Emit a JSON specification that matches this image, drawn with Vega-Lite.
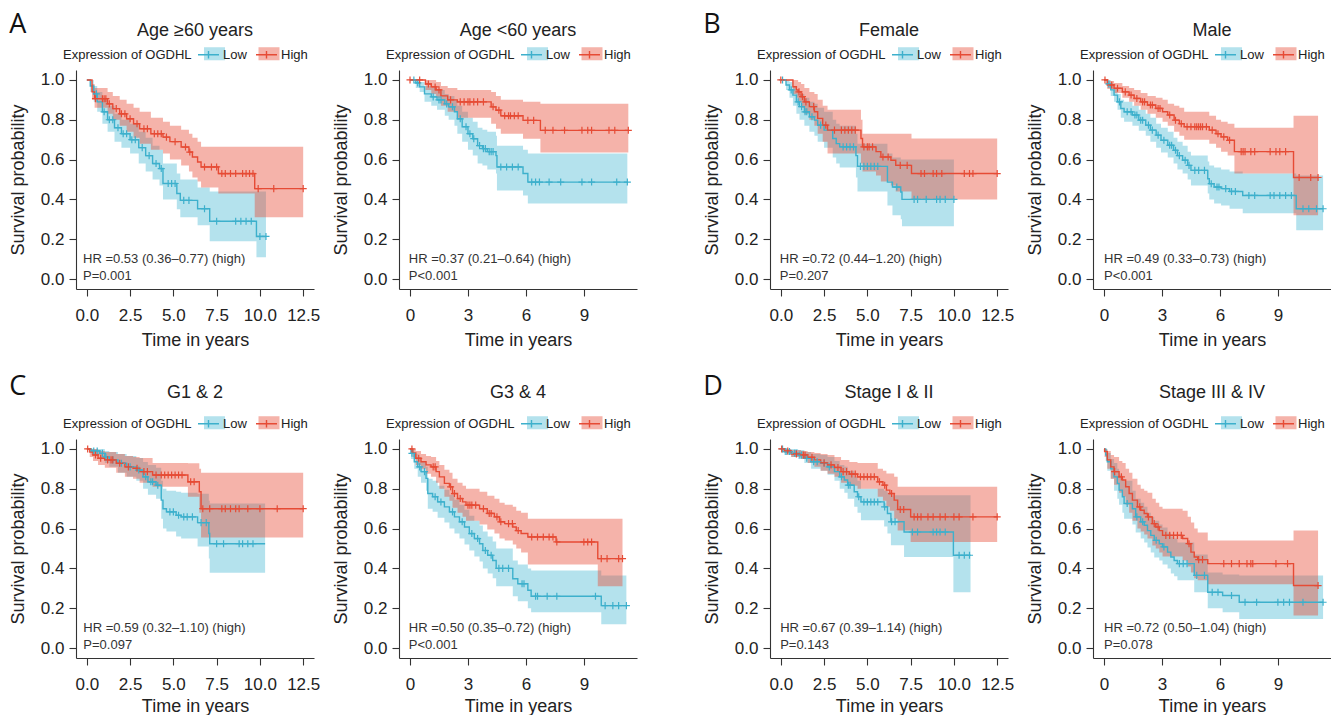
{
"$schema":"https://vega.github.io/schema/vega-lite/v6.json",
"padding":{"left":9,"top":11,"right":0,"bottom":0},
"background":"white",
"config":{
 "font":"Liberation Sans",
 "view":{"stroke":null},
 "axis":{"grid":false,"domainColor":"#333","domainWidth":1.1,"tickColor":"#333","tickWidth":1.1,"tickSize":7,"labelFontSize":17,"labelColor":"#222","titleFontSize":18,"titleFontWeight":"normal","titleColor":"#222","labelOverlap":false,"labelFlush":false},
 "axisX":{"labelPadding":11,"titlePadding":8},
 "axisY":{"labelPadding":5,"titlePadding":13},
 "title":{"fontSize":18,"fontWeight":"normal","color":"#222","font":"Liberation Sans"},
 "legend":{"titleFontSize":13,"titleFontWeight":"normal","titleColor":"#222","labelFontSize":13,"labelColor":"#222","symbolSize":441,"labelOffset":3,"columnPadding":6,"titlePadding":5,"padding":0,"titleAnchor":"end","titleBaseline":"bottom","titleOrient":"left"}
},
"datasets":{
"km":[
{"p":"P1","g":"Low","t":0,"s":1,"lo":1,"hi":1},
{"p":"P1","g":"Low","t":0.2,"s":0.97,"lo":0.94,"hi":1.0},
{"p":"P1","g":"Low","t":0.4,"s":0.93,"lo":0.89,"hi":0.97},
{"p":"P1","g":"Low","t":0.6,"s":0.89,"lo":0.84,"hi":0.94},
{"p":"P1","g":"Low","t":0.9,"s":0.84,"lo":0.78,"hi":0.9},
{"p":"P1","g":"Low","t":1.2,"s":0.8,"lo":0.74,"hi":0.87},
{"p":"P1","g":"Low","t":1.6,"s":0.76,"lo":0.69,"hi":0.83},
{"p":"P1","g":"Low","t":2.0,"s":0.73,"lo":0.66,"hi":0.8},
{"p":"P1","g":"Low","t":2.5,"s":0.7,"lo":0.63,"hi":0.78},
{"p":"P1","g":"Low","t":3.0,"s":0.66,"lo":0.58,"hi":0.74},
{"p":"P1","g":"Low","t":3.4,"s":0.62,"lo":0.54,"hi":0.71},
{"p":"P1","g":"Low","t":3.8,"s":0.58,"lo":0.5,"hi":0.67},
{"p":"P1","g":"Low","t":4.2,"s":0.555,"lo":0.47,"hi":0.65},
{"p":"P1","g":"Low","t":4.4,"s":0.48,"lo":0.4,"hi":0.58},
{"p":"P1","g":"Low","t":5.2,"s":0.43,"lo":0.35,"hi":0.53},
{"p":"P1","g":"Low","t":5.4,"s":0.395,"lo":0.31,"hi":0.5},
{"p":"P1","g":"Low","t":6.4,"s":0.353,"lo":0.27,"hi":0.46},
{"p":"P1","g":"Low","t":7.1,"s":0.29,"lo":0.19,"hi":0.44},
{"p":"P1","g":"Low","t":9.8,"s":0.214,"lo":0.11,"hi":0.44},
{"p":"P1","g":"Low","t":10.35,"s":0.214,"lo":0.11,"hi":0.44},
{"p":"P1","g":"High","t":0,"s":1,"lo":1,"hi":1},
{"p":"P1","g":"High","t":0.3,"s":0.94,"lo":0.9,"hi":0.98},
{"p":"P1","g":"High","t":0.45,"s":0.906,"lo":0.86,"hi":0.96},
{"p":"P1","g":"High","t":1.2,"s":0.88,"lo":0.83,"hi":0.94},
{"p":"P1","g":"High","t":1.5,"s":0.856,"lo":0.8,"hi":0.92},
{"p":"P1","g":"High","t":1.9,"s":0.83,"lo":0.77,"hi":0.9},
{"p":"P1","g":"High","t":2.3,"s":0.805,"lo":0.74,"hi":0.88},
{"p":"P1","g":"High","t":2.7,"s":0.78,"lo":0.71,"hi":0.86},
{"p":"P1","g":"High","t":3.05,"s":0.755,"lo":0.68,"hi":0.84},
{"p":"P1","g":"High","t":3.7,"s":0.73,"lo":0.65,"hi":0.81},
{"p":"P1","g":"High","t":4.4,"s":0.713,"lo":0.63,"hi":0.79},
{"p":"P1","g":"High","t":4.8,"s":0.69,"lo":0.6,"hi":0.77},
{"p":"P1","g":"High","t":5.45,"s":0.663,"lo":0.57,"hi":0.75},
{"p":"P1","g":"High","t":5.9,"s":0.638,"lo":0.54,"hi":0.73},
{"p":"P1","g":"High","t":6.1,"s":0.613,"lo":0.51,"hi":0.71},
{"p":"P1","g":"High","t":6.4,"s":0.588,"lo":0.49,"hi":0.69},
{"p":"P1","g":"High","t":6.6,"s":0.563,"lo":0.46,"hi":0.665},
{"p":"P1","g":"High","t":7.6,"s":0.53,"lo":0.43,"hi":0.665},
{"p":"P1","g":"High","t":9.7,"s":0.454,"lo":0.31,"hi":0.665},
{"p":"P1","g":"High","t":12.5,"s":0.454,"lo":0.31,"hi":0.665},
{"p":"P2","g":"Low","t":0,"s":1,"lo":1,"hi":1},
{"p":"P2","g":"Low","t":0.3,"s":0.985,"lo":0.96,"hi":1.0},
{"p":"P2","g":"Low","t":0.5,"s":0.965,"lo":0.94,"hi":0.99},
{"p":"P2","g":"Low","t":0.75,"s":0.93,"lo":0.89,"hi":0.97},
{"p":"P2","g":"Low","t":1.1,"s":0.915,"lo":0.87,"hi":0.96},
{"p":"P2","g":"Low","t":1.4,"s":0.9,"lo":0.85,"hi":0.95},
{"p":"P2","g":"Low","t":1.8,"s":0.88,"lo":0.82,"hi":0.93},
{"p":"P2","g":"Low","t":2.0,"s":0.865,"lo":0.8,"hi":0.92},
{"p":"P2","g":"Low","t":2.3,"s":0.84,"lo":0.77,"hi":0.9},
{"p":"P2","g":"Low","t":2.45,"s":0.805,"lo":0.73,"hi":0.87},
{"p":"P2","g":"Low","t":2.7,"s":0.765,"lo":0.69,"hi":0.84},
{"p":"P2","g":"Low","t":3.0,"s":0.73,"lo":0.65,"hi":0.81},
{"p":"P2","g":"Low","t":3.25,"s":0.705,"lo":0.62,"hi":0.79},
{"p":"P2","g":"Low","t":3.5,"s":0.67,"lo":0.58,"hi":0.76},
{"p":"P2","g":"Low","t":3.75,"s":0.655,"lo":0.57,"hi":0.75},
{"p":"P2","g":"Low","t":4.0,"s":0.64,"lo":0.55,"hi":0.74},
{"p":"P2","g":"Low","t":4.45,"s":0.62,"lo":0.53,"hi":0.72},
{"p":"P2","g":"Low","t":4.5,"s":0.563,"lo":0.445,"hi":0.67},
{"p":"P2","g":"Low","t":5.85,"s":0.53,"lo":0.42,"hi":0.65},
{"p":"P2","g":"Low","t":6.1,"s":0.487,"lo":0.38,"hi":0.63},
{"p":"P2","g":"Low","t":11.25,"s":0.487,"lo":0.38,"hi":0.63},
{"p":"P2","g":"High","t":0,"s":1,"lo":1,"hi":1},
{"p":"P2","g":"High","t":0.8,"s":0.98,"lo":0.95,"hi":1.0},
{"p":"P2","g":"High","t":1.1,"s":0.965,"lo":0.93,"hi":1.0},
{"p":"P2","g":"High","t":1.35,"s":0.95,"lo":0.91,"hi":0.99},
{"p":"P2","g":"High","t":1.6,"s":0.92,"lo":0.87,"hi":0.97},
{"p":"P2","g":"High","t":1.95,"s":0.9,"lo":0.84,"hi":0.96},
{"p":"P2","g":"High","t":2.45,"s":0.89,"lo":0.81,"hi":0.95},
{"p":"P2","g":"High","t":4.2,"s":0.865,"lo":0.78,"hi":0.94},
{"p":"P2","g":"High","t":4.45,"s":0.848,"lo":0.755,"hi":0.92},
{"p":"P2","g":"High","t":4.7,"s":0.82,"lo":0.73,"hi":0.9},
{"p":"P2","g":"High","t":5.85,"s":0.797,"lo":0.705,"hi":0.89},
{"p":"P2","g":"High","t":6.75,"s":0.747,"lo":0.635,"hi":0.88},
{"p":"P2","g":"High","t":11.3,"s":0.747,"lo":0.635,"hi":0.88},
{"p":"P3","g":"Low","t":0,"s":1,"lo":1,"hi":1},
{"p":"P3","g":"Low","t":0.3,"s":0.975,"lo":0.95,"hi":1.0},
{"p":"P3","g":"Low","t":0.5,"s":0.95,"lo":0.91,"hi":0.99},
{"p":"P3","g":"Low","t":0.7,"s":0.924,"lo":0.87,"hi":0.97},
{"p":"P3","g":"Low","t":0.9,"s":0.89,"lo":0.83,"hi":0.95},
{"p":"P3","g":"Low","t":1.08,"s":0.866,"lo":0.8,"hi":0.93},
{"p":"P3","g":"Low","t":1.36,"s":0.84,"lo":0.77,"hi":0.91},
{"p":"P3","g":"Low","t":1.65,"s":0.815,"lo":0.74,"hi":0.89},
{"p":"P3","g":"Low","t":1.94,"s":0.798,"lo":0.72,"hi":0.88},
{"p":"P3","g":"Low","t":2.13,"s":0.773,"lo":0.69,"hi":0.86},
{"p":"P3","g":"Low","t":2.5,"s":0.748,"lo":0.66,"hi":0.84},
{"p":"P3","g":"Low","t":3.0,"s":0.706,"lo":0.61,"hi":0.8},
{"p":"P3","g":"Low","t":3.2,"s":0.68,"lo":0.58,"hi":0.78},
{"p":"P3","g":"Low","t":3.4,"s":0.664,"lo":0.56,"hi":0.77},
{"p":"P3","g":"Low","t":4.34,"s":0.62,"lo":0.51,"hi":0.73},
{"p":"P3","g":"Low","t":4.43,"s":0.566,"lo":0.44,"hi":0.68},
{"p":"P3","g":"Low","t":6.16,"s":0.487,"lo":0.37,"hi":0.63},
{"p":"P3","g":"Low","t":6.45,"s":0.462,"lo":0.32,"hi":0.61},
{"p":"P3","g":"Low","t":6.93,"s":0.437,"lo":0.3,"hi":0.6},
{"p":"P3","g":"Low","t":7.0,"s":0.4,"lo":0.265,"hi":0.6},
{"p":"P3","g":"Low","t":10.0,"s":0.4,"lo":0.265,"hi":0.6},
{"p":"P3","g":"High","t":0,"s":1,"lo":1,"hi":1},
{"p":"P3","g":"High","t":0.7,"s":0.966,"lo":0.93,"hi":1.0},
{"p":"P3","g":"High","t":0.9,"s":0.95,"lo":0.91,"hi":1.0},
{"p":"P3","g":"High","t":1.0,"s":0.94,"lo":0.89,"hi":0.99},
{"p":"P3","g":"High","t":1.17,"s":0.916,"lo":0.86,"hi":0.98},
{"p":"P3","g":"High","t":1.36,"s":0.89,"lo":0.83,"hi":0.96},
{"p":"P3","g":"High","t":1.65,"s":0.866,"lo":0.8,"hi":0.94},
{"p":"P3","g":"High","t":1.94,"s":0.84,"lo":0.77,"hi":0.93},
{"p":"P3","g":"High","t":2.13,"s":0.807,"lo":0.73,"hi":0.9},
{"p":"P3","g":"High","t":2.42,"s":0.773,"lo":0.69,"hi":0.87},
{"p":"P3","g":"High","t":2.7,"s":0.748,"lo":0.63,"hi":0.85},
{"p":"P3","g":"High","t":4.63,"s":0.706,"lo":0.58,"hi":0.8},
{"p":"P3","g":"High","t":4.72,"s":0.664,"lo":0.54,"hi":0.73},
{"p":"P3","g":"High","t":5.5,"s":0.64,"lo":0.52,"hi":0.73},
{"p":"P3","g":"High","t":5.78,"s":0.613,"lo":0.49,"hi":0.73},
{"p":"P3","g":"High","t":6.36,"s":0.597,"lo":0.47,"hi":0.73},
{"p":"P3","g":"High","t":6.64,"s":0.571,"lo":0.44,"hi":0.73},
{"p":"P3","g":"High","t":7.55,"s":0.53,"lo":0.4,"hi":0.706},
{"p":"P3","g":"High","t":12.5,"s":0.53,"lo":0.4,"hi":0.706},
{"p":"P4","g":"Low","t":0,"s":1,"lo":1,"hi":1},
{"p":"P4","g":"Low","t":0.17,"s":0.98,"lo":0.96,"hi":1.0},
{"p":"P4","g":"Low","t":0.35,"s":0.95,"lo":0.92,"hi":0.98},
{"p":"P4","g":"Low","t":0.52,"s":0.924,"lo":0.89,"hi":0.96},
{"p":"P4","g":"Low","t":0.7,"s":0.89,"lo":0.85,"hi":0.93},
{"p":"P4","g":"Low","t":0.87,"s":0.857,"lo":0.81,"hi":0.9},
{"p":"P4","g":"Low","t":1.04,"s":0.84,"lo":0.79,"hi":0.89},
{"p":"P4","g":"Low","t":1.47,"s":0.824,"lo":0.77,"hi":0.87},
{"p":"P4","g":"Low","t":1.8,"s":0.798,"lo":0.745,"hi":0.85},
{"p":"P4","g":"Low","t":2.16,"s":0.773,"lo":0.72,"hi":0.83},
{"p":"P4","g":"Low","t":2.4,"s":0.748,"lo":0.69,"hi":0.81},
{"p":"P4","g":"Low","t":2.7,"s":0.723,"lo":0.66,"hi":0.78},
{"p":"P4","g":"Low","t":2.95,"s":0.697,"lo":0.635,"hi":0.76},
{"p":"P4","g":"Low","t":3.3,"s":0.672,"lo":0.61,"hi":0.74},
{"p":"P4","g":"Low","t":3.6,"s":0.647,"lo":0.58,"hi":0.71},
{"p":"P4","g":"Low","t":3.8,"s":0.62,"lo":0.55,"hi":0.69},
{"p":"P4","g":"Low","t":4.07,"s":0.597,"lo":0.53,"hi":0.67},
{"p":"P4","g":"Low","t":4.33,"s":0.571,"lo":0.5,"hi":0.64},
{"p":"P4","g":"Low","t":4.5,"s":0.546,"lo":0.47,"hi":0.62},
{"p":"P4","g":"Low","t":5.37,"s":0.504,"lo":0.43,"hi":0.59},
{"p":"P4","g":"Low","t":5.45,"s":0.479,"lo":0.4,"hi":0.57},
{"p":"P4","g":"Low","t":5.7,"s":0.462,"lo":0.38,"hi":0.56},
{"p":"P4","g":"Low","t":6.06,"s":0.454,"lo":0.37,"hi":0.55},
{"p":"P4","g":"Low","t":6.5,"s":0.44,"lo":0.353,"hi":0.54},
{"p":"P4","g":"Low","t":7.18,"s":0.42,"lo":0.33,"hi":0.53},
{"p":"P4","g":"Low","t":9.95,"s":0.353,"lo":0.245,"hi":0.52},
{"p":"P4","g":"Low","t":11.34,"s":0.353,"lo":0.245,"hi":0.52},
{"p":"P4","g":"High","t":0,"s":1,"lo":1,"hi":1},
{"p":"P4","g":"High","t":0.17,"s":0.975,"lo":0.955,"hi":0.995},
{"p":"P4","g":"High","t":0.52,"s":0.958,"lo":0.935,"hi":0.985},
{"p":"P4","g":"High","t":0.95,"s":0.94,"lo":0.91,"hi":0.97},
{"p":"P4","g":"High","t":1.3,"s":0.924,"lo":0.89,"hi":0.96},
{"p":"P4","g":"High","t":1.56,"s":0.907,"lo":0.87,"hi":0.95},
{"p":"P4","g":"High","t":1.9,"s":0.89,"lo":0.85,"hi":0.935},
{"p":"P4","g":"High","t":2.25,"s":0.874,"lo":0.83,"hi":0.92},
{"p":"P4","g":"High","t":2.68,"s":0.857,"lo":0.81,"hi":0.91},
{"p":"P4","g":"High","t":3.03,"s":0.84,"lo":0.79,"hi":0.9},
{"p":"P4","g":"High","t":3.3,"s":0.824,"lo":0.77,"hi":0.88},
{"p":"P4","g":"High","t":3.63,"s":0.798,"lo":0.74,"hi":0.87},
{"p":"P4","g":"High","t":3.9,"s":0.78,"lo":0.72,"hi":0.86},
{"p":"P4","g":"High","t":4.15,"s":0.765,"lo":0.7,"hi":0.84},
{"p":"P4","g":"High","t":5.45,"s":0.748,"lo":0.68,"hi":0.82},
{"p":"P4","g":"High","t":5.8,"s":0.73,"lo":0.66,"hi":0.8},
{"p":"P4","g":"High","t":6.06,"s":0.714,"lo":0.64,"hi":0.79},
{"p":"P4","g":"High","t":6.4,"s":0.697,"lo":0.62,"hi":0.78},
{"p":"P4","g":"High","t":6.75,"s":0.64,"lo":0.53,"hi":0.76},
{"p":"P4","g":"High","t":9.81,"s":0.51,"lo":0.32,"hi":0.82},
{"p":"P4","g":"High","t":11.08,"s":0.51,"lo":0.32,"hi":0.82},
{"p":"P5","g":"Low","t":0,"s":1,"lo":1,"hi":1},
{"p":"P5","g":"Low","t":0.27,"s":0.99,"lo":0.97,"hi":1.0},
{"p":"P5","g":"Low","t":0.75,"s":0.978,"lo":0.95,"hi":1.0},
{"p":"P5","g":"Low","t":1.04,"s":0.96,"lo":0.93,"hi":0.99},
{"p":"P5","g":"Low","t":1.3,"s":0.945,"lo":0.91,"hi":0.985},
{"p":"P5","g":"Low","t":1.8,"s":0.928,"lo":0.88,"hi":0.975},
{"p":"P5","g":"Low","t":2.3,"s":0.91,"lo":0.86,"hi":0.965},
{"p":"P5","g":"Low","t":2.86,"s":0.894,"lo":0.84,"hi":0.955},
{"p":"P5","g":"Low","t":3.25,"s":0.86,"lo":0.8,"hi":0.935},
{"p":"P5","g":"Low","t":3.53,"s":0.835,"lo":0.77,"hi":0.92},
{"p":"P5","g":"Low","t":4.0,"s":0.818,"lo":0.75,"hi":0.905},
{"p":"P5","g":"Low","t":4.3,"s":0.743,"lo":0.65,"hi":0.84},
{"p":"P5","g":"Low","t":4.4,"s":0.7,"lo":0.6,"hi":0.8},
{"p":"P5","g":"Low","t":4.6,"s":0.684,"lo":0.585,"hi":0.79},
{"p":"P5","g":"Low","t":5.16,"s":0.667,"lo":0.56,"hi":0.785},
{"p":"P5","g":"Low","t":5.45,"s":0.659,"lo":0.55,"hi":0.78},
{"p":"P5","g":"Low","t":6.4,"s":0.63,"lo":0.51,"hi":0.775},
{"p":"P5","g":"Low","t":7.05,"s":0.575,"lo":0.45,"hi":0.74},
{"p":"P5","g":"Low","t":7.1,"s":0.524,"lo":0.378,"hi":0.726},
{"p":"P5","g":"Low","t":10.3,"s":0.524,"lo":0.378,"hi":0.726},
{"p":"P5","g":"High","t":0,"s":1,"lo":1,"hi":1},
{"p":"P5","g":"High","t":0.17,"s":0.985,"lo":0.96,"hi":1.0},
{"p":"P5","g":"High","t":0.36,"s":0.97,"lo":0.94,"hi":1.0},
{"p":"P5","g":"High","t":0.65,"s":0.953,"lo":0.92,"hi":0.99},
{"p":"P5","g":"High","t":1.04,"s":0.945,"lo":0.905,"hi":0.985},
{"p":"P5","g":"High","t":1.7,"s":0.928,"lo":0.88,"hi":0.975},
{"p":"P5","g":"High","t":2.2,"s":0.91,"lo":0.86,"hi":0.965},
{"p":"P5","g":"High","t":2.67,"s":0.903,"lo":0.85,"hi":0.96},
{"p":"P5","g":"High","t":3.05,"s":0.886,"lo":0.83,"hi":0.955},
{"p":"P5","g":"High","t":3.8,"s":0.869,"lo":0.81,"hi":0.93},
{"p":"P5","g":"High","t":5.84,"s":0.835,"lo":0.76,"hi":0.928},
{"p":"P5","g":"High","t":6.5,"s":0.785,"lo":0.68,"hi":0.9},
{"p":"P5","g":"High","t":6.6,"s":0.7,"lo":0.555,"hi":0.88},
{"p":"P5","g":"High","t":12.5,"s":0.7,"lo":0.555,"hi":0.88},
{"p":"P6","g":"Low","t":0,"s":1,"lo":1,"hi":1},
{"p":"P6","g":"Low","t":0.05,"s":0.978,"lo":0.95,"hi":1.0},
{"p":"P6","g":"Low","t":0.22,"s":0.936,"lo":0.9,"hi":0.975},
{"p":"P6","g":"Low","t":0.4,"s":0.91,"lo":0.86,"hi":0.96},
{"p":"P6","g":"Low","t":0.57,"s":0.886,"lo":0.83,"hi":0.94},
{"p":"P6","g":"Low","t":0.83,"s":0.852,"lo":0.79,"hi":0.91},
{"p":"P6","g":"Low","t":0.92,"s":0.776,"lo":0.7,"hi":0.85},
{"p":"P6","g":"Low","t":1.17,"s":0.76,"lo":0.685,"hi":0.84},
{"p":"P6","g":"Low","t":1.43,"s":0.734,"lo":0.655,"hi":0.815},
{"p":"P6","g":"Low","t":1.78,"s":0.709,"lo":0.63,"hi":0.795},
{"p":"P6","g":"Low","t":2.04,"s":0.684,"lo":0.6,"hi":0.77},
{"p":"P6","g":"Low","t":2.3,"s":0.659,"lo":0.575,"hi":0.745},
{"p":"P6","g":"Low","t":2.56,"s":0.634,"lo":0.55,"hi":0.72},
{"p":"P6","g":"Low","t":2.82,"s":0.608,"lo":0.52,"hi":0.695},
{"p":"P6","g":"Low","t":3.07,"s":0.575,"lo":0.49,"hi":0.665},
{"p":"P6","g":"Low","t":3.33,"s":0.55,"lo":0.46,"hi":0.64},
{"p":"P6","g":"Low","t":3.6,"s":0.524,"lo":0.435,"hi":0.615},
{"p":"P6","g":"Low","t":3.77,"s":0.49,"lo":0.4,"hi":0.585},
{"p":"P6","g":"Low","t":4.02,"s":0.466,"lo":0.375,"hi":0.56},
{"p":"P6","g":"Low","t":4.28,"s":0.44,"lo":0.35,"hi":0.535},
{"p":"P6","g":"Low","t":4.46,"s":0.4,"lo":0.31,"hi":0.5},
{"p":"P6","g":"Low","t":5.32,"s":0.348,"lo":0.26,"hi":0.44},
{"p":"P6","g":"Low","t":5.58,"s":0.323,"lo":0.235,"hi":0.42},
{"p":"P6","g":"Low","t":6.1,"s":0.29,"lo":0.2,"hi":0.4},
{"p":"P6","g":"Low","t":6.27,"s":0.26,"lo":0.18,"hi":0.39},
{"p":"P6","g":"Low","t":9.9,"s":0.213,"lo":0.12,"hi":0.365},
{"p":"P6","g":"Low","t":11.2,"s":0.213,"lo":0.12,"hi":0.365},
{"p":"P6","g":"High","t":0,"s":1,"lo":1,"hi":1},
{"p":"P6","g":"High","t":0.14,"s":0.98,"lo":0.96,"hi":1.0},
{"p":"P6","g":"High","t":0.3,"s":0.953,"lo":0.92,"hi":0.99},
{"p":"P6","g":"High","t":0.57,"s":0.936,"lo":0.9,"hi":0.975},
{"p":"P6","g":"High","t":0.83,"s":0.92,"lo":0.875,"hi":0.965},
{"p":"P6","g":"High","t":1.09,"s":0.91,"lo":0.86,"hi":0.96},
{"p":"P6","g":"High","t":1.35,"s":0.886,"lo":0.83,"hi":0.94},
{"p":"P6","g":"High","t":1.52,"s":0.86,"lo":0.8,"hi":0.92},
{"p":"P6","g":"High","t":1.78,"s":0.827,"lo":0.76,"hi":0.895},
{"p":"P6","g":"High","t":2.04,"s":0.81,"lo":0.74,"hi":0.88},
{"p":"P6","g":"High","t":2.2,"s":0.776,"lo":0.705,"hi":0.85},
{"p":"P6","g":"High","t":2.46,"s":0.751,"lo":0.68,"hi":0.83},
{"p":"P6","g":"High","t":2.72,"s":0.734,"lo":0.66,"hi":0.815},
{"p":"P6","g":"High","t":2.9,"s":0.718,"lo":0.64,"hi":0.8},
{"p":"P6","g":"High","t":3.6,"s":0.7,"lo":0.62,"hi":0.785},
{"p":"P6","g":"High","t":4.0,"s":0.676,"lo":0.595,"hi":0.765},
{"p":"P6","g":"High","t":4.37,"s":0.659,"lo":0.575,"hi":0.75},
{"p":"P6","g":"High","t":4.63,"s":0.634,"lo":0.55,"hi":0.73},
{"p":"P6","g":"High","t":4.9,"s":0.625,"lo":0.54,"hi":0.72},
{"p":"P6","g":"High","t":5.32,"s":0.608,"lo":0.52,"hi":0.71},
{"p":"P6","g":"High","t":5.5,"s":0.59,"lo":0.5,"hi":0.69},
{"p":"P6","g":"High","t":5.75,"s":0.575,"lo":0.48,"hi":0.68},
{"p":"P6","g":"High","t":6.1,"s":0.558,"lo":0.42,"hi":0.65},
{"p":"P6","g":"High","t":7.56,"s":0.533,"lo":0.42,"hi":0.65},
{"p":"P6","g":"High","t":9.72,"s":0.449,"lo":0.31,"hi":0.65},
{"p":"P6","g":"High","t":11.0,"s":0.449,"lo":0.31,"hi":0.65},
{"p":"P7","g":"Low","t":0,"s":1,"lo":1,"hi":1},
{"p":"P7","g":"Low","t":0.2,"s":0.987,"lo":0.97,"hi":1.0},
{"p":"P7","g":"Low","t":0.6,"s":0.978,"lo":0.96,"hi":1.0},
{"p":"P7","g":"Low","t":1.0,"s":0.97,"lo":0.95,"hi":0.995},
{"p":"P7","g":"Low","t":1.36,"s":0.953,"lo":0.93,"hi":0.985},
{"p":"P7","g":"Low","t":1.75,"s":0.936,"lo":0.9,"hi":0.975},
{"p":"P7","g":"Low","t":2.3,"s":0.928,"lo":0.89,"hi":0.97},
{"p":"P7","g":"Low","t":2.7,"s":0.91,"lo":0.87,"hi":0.96},
{"p":"P7","g":"Low","t":3.1,"s":0.886,"lo":0.84,"hi":0.94},
{"p":"P7","g":"Low","t":3.4,"s":0.86,"lo":0.8,"hi":0.92},
{"p":"P7","g":"Low","t":3.67,"s":0.844,"lo":0.78,"hi":0.91},
{"p":"P7","g":"Low","t":3.86,"s":0.818,"lo":0.75,"hi":0.89},
{"p":"P7","g":"Low","t":4.24,"s":0.785,"lo":0.71,"hi":0.86},
{"p":"P7","g":"Low","t":4.43,"s":0.76,"lo":0.68,"hi":0.84},
{"p":"P7","g":"Low","t":4.63,"s":0.734,"lo":0.642,"hi":0.8},
{"p":"P7","g":"Low","t":5.97,"s":0.709,"lo":0.61,"hi":0.79},
{"p":"P7","g":"Low","t":6.16,"s":0.676,"lo":0.575,"hi":0.78},
{"p":"P7","g":"Low","t":6.36,"s":0.634,"lo":0.516,"hi":0.768},
{"p":"P7","g":"Low","t":7.12,"s":0.583,"lo":0.457,"hi":0.768},
{"p":"P7","g":"Low","t":9.97,"s":0.466,"lo":0.28,"hi":0.768},
{"p":"P7","g":"Low","t":10.96,"s":0.466,"lo":0.28,"hi":0.768},
{"p":"P7","g":"High","t":0,"s":1,"lo":1,"hi":1},
{"p":"P7","g":"High","t":0.2,"s":0.99,"lo":0.98,"hi":1.0},
{"p":"P7","g":"High","t":0.6,"s":0.975,"lo":0.96,"hi":0.995},
{"p":"P7","g":"High","t":1.17,"s":0.97,"lo":0.95,"hi":0.99},
{"p":"P7","g":"High","t":1.55,"s":0.958,"lo":0.93,"hi":0.985},
{"p":"P7","g":"High","t":1.94,"s":0.945,"lo":0.91,"hi":0.98},
{"p":"P7","g":"High","t":2.3,"s":0.93,"lo":0.89,"hi":0.975},
{"p":"P7","g":"High","t":2.7,"s":0.92,"lo":0.875,"hi":0.97},
{"p":"P7","g":"High","t":3.1,"s":0.907,"lo":0.86,"hi":0.96},
{"p":"P7","g":"High","t":3.48,"s":0.886,"lo":0.83,"hi":0.945},
{"p":"P7","g":"High","t":3.96,"s":0.874,"lo":0.815,"hi":0.935},
{"p":"P7","g":"High","t":4.43,"s":0.86,"lo":0.8,"hi":0.93},
{"p":"P7","g":"High","t":5.6,"s":0.835,"lo":0.76,"hi":0.9},
{"p":"P7","g":"High","t":5.9,"s":0.818,"lo":0.74,"hi":0.89},
{"p":"P7","g":"High","t":6.1,"s":0.793,"lo":0.71,"hi":0.877},
{"p":"P7","g":"High","t":6.3,"s":0.776,"lo":0.69,"hi":0.877},
{"p":"P7","g":"High","t":6.55,"s":0.743,"lo":0.65,"hi":0.86},
{"p":"P7","g":"High","t":6.75,"s":0.696,"lo":0.59,"hi":0.81},
{"p":"P7","g":"High","t":7.5,"s":0.659,"lo":0.533,"hi":0.81},
{"p":"P7","g":"High","t":12.5,"s":0.659,"lo":0.533,"hi":0.81},
{"p":"P8","g":"Low","t":0,"s":1,"lo":1,"hi":1},
{"p":"P8","g":"Low","t":0.09,"s":0.97,"lo":0.94,"hi":1.0},
{"p":"P8","g":"Low","t":0.17,"s":0.936,"lo":0.89,"hi":0.98},
{"p":"P8","g":"Low","t":0.35,"s":0.9,"lo":0.85,"hi":0.95},
{"p":"P8","g":"Low","t":0.52,"s":0.86,"lo":0.79,"hi":0.93},
{"p":"P8","g":"Low","t":0.69,"s":0.827,"lo":0.75,"hi":0.9},
{"p":"P8","g":"Low","t":0.78,"s":0.793,"lo":0.72,"hi":0.87},
{"p":"P8","g":"Low","t":0.95,"s":0.76,"lo":0.68,"hi":0.85},
{"p":"P8","g":"Low","t":1.04,"s":0.726,"lo":0.65,"hi":0.84},
{"p":"P8","g":"Low","t":1.47,"s":0.7,"lo":0.62,"hi":0.79},
{"p":"P8","g":"Low","t":1.64,"s":0.659,"lo":0.58,"hi":0.75},
{"p":"P8","g":"Low","t":1.9,"s":0.634,"lo":0.55,"hi":0.73},
{"p":"P8","g":"Low","t":2.08,"s":0.617,"lo":0.53,"hi":0.71},
{"p":"P8","g":"Low","t":2.25,"s":0.59,"lo":0.505,"hi":0.68},
{"p":"P8","g":"Low","t":2.42,"s":0.566,"lo":0.48,"hi":0.66},
{"p":"P8","g":"Low","t":2.6,"s":0.541,"lo":0.455,"hi":0.64},
{"p":"P8","g":"Low","t":2.86,"s":0.524,"lo":0.44,"hi":0.62},
{"p":"P8","g":"Low","t":3.03,"s":0.508,"lo":0.42,"hi":0.605},
{"p":"P8","g":"Low","t":3.29,"s":0.482,"lo":0.4,"hi":0.58},
{"p":"P8","g":"Low","t":3.46,"s":0.457,"lo":0.375,"hi":0.56},
{"p":"P8","g":"Low","t":3.63,"s":0.44,"lo":0.36,"hi":0.55},
{"p":"P8","g":"Low","t":3.8,"s":0.424,"lo":0.34,"hi":0.53},
{"p":"P8","g":"Low","t":4.67,"s":0.365,"lo":0.28,"hi":0.47},
{"p":"P8","g":"Low","t":5.37,"s":0.28,"lo":0.2,"hi":0.38},
{"p":"P8","g":"Low","t":6.14,"s":0.264,"lo":0.18,"hi":0.37},
{"p":"P8","g":"Low","t":7.0,"s":0.23,"lo":0.146,"hi":0.365},
{"p":"P8","g":"Low","t":11.34,"s":0.23,"lo":0.146,"hi":0.365},
{"p":"P8","g":"High","t":0,"s":1,"lo":1,"hi":1},
{"p":"P8","g":"High","t":0.03,"s":0.987,"lo":0.96,"hi":1.0},
{"p":"P8","g":"High","t":0.17,"s":0.945,"lo":0.9,"hi":0.99},
{"p":"P8","g":"High","t":0.35,"s":0.91,"lo":0.85,"hi":0.97},
{"p":"P8","g":"High","t":0.52,"s":0.886,"lo":0.82,"hi":0.96},
{"p":"P8","g":"High","t":0.78,"s":0.86,"lo":0.78,"hi":0.94},
{"p":"P8","g":"High","t":0.95,"s":0.844,"lo":0.76,"hi":0.93},
{"p":"P8","g":"High","t":1.12,"s":0.81,"lo":0.72,"hi":0.9},
{"p":"P8","g":"High","t":1.3,"s":0.776,"lo":0.68,"hi":0.88},
{"p":"P8","g":"High","t":1.47,"s":0.743,"lo":0.64,"hi":0.85},
{"p":"P8","g":"High","t":1.73,"s":0.709,"lo":0.6,"hi":0.82},
{"p":"P8","g":"High","t":1.9,"s":0.692,"lo":0.585,"hi":0.8},
{"p":"P8","g":"High","t":2.08,"s":0.676,"lo":0.57,"hi":0.79},
{"p":"P8","g":"High","t":2.25,"s":0.659,"lo":0.55,"hi":0.78},
{"p":"P8","g":"High","t":2.5,"s":0.625,"lo":0.515,"hi":0.75},
{"p":"P8","g":"High","t":2.68,"s":0.608,"lo":0.5,"hi":0.73},
{"p":"P8","g":"High","t":2.86,"s":0.59,"lo":0.48,"hi":0.71},
{"p":"P8","g":"High","t":3.03,"s":0.566,"lo":0.46,"hi":0.7},
{"p":"P8","g":"High","t":4.07,"s":0.55,"lo":0.44,"hi":0.69},
{"p":"P8","g":"High","t":4.33,"s":0.524,"lo":0.41,"hi":0.66},
{"p":"P8","g":"High","t":4.5,"s":0.482,"lo":0.38,"hi":0.63},
{"p":"P8","g":"High","t":4.67,"s":0.457,"lo":0.35,"hi":0.6},
{"p":"P8","g":"High","t":4.85,"s":0.444,"lo":0.34,"hi":0.58},
{"p":"P8","g":"High","t":5.37,"s":0.424,"lo":0.32,"hi":0.54},
{"p":"P8","g":"High","t":9.81,"s":0.314,"lo":0.163,"hi":0.59},
{"p":"P8","g":"High","t":11.08,"s":0.314,"lo":0.163,"hi":0.59}
],
"cens":[
{"p":"P1","g":"Low","t":0.55,"s":0.93},{"p":"P1","g":"Low","t":1.0,"s":0.84},{"p":"P1","g":"Low","t":1.3,"s":0.8},{"p":"P1","g":"Low","t":1.5,"s":0.8},{"p":"P1","g":"Low","t":1.8,"s":0.76},{"p":"P1","g":"Low","t":2.1,"s":0.73},{"p":"P1","g":"Low","t":2.3,"s":0.73},{"p":"P1","g":"Low","t":2.6,"s":0.7},{"p":"P1","g":"Low","t":2.8,"s":0.7},{"p":"P1","g":"Low","t":3.2,"s":0.66},{"p":"P1","g":"Low","t":3.6,"s":0.62},{"p":"P1","g":"Low","t":4.0,"s":0.58},{"p":"P1","g":"Low","t":4.3,"s":0.555},{"p":"P1","g":"Low","t":4.7,"s":0.48},{"p":"P1","g":"Low","t":4.9,"s":0.48},{"p":"P1","g":"Low","t":5.1,"s":0.48},{"p":"P1","g":"Low","t":5.6,"s":0.395},{"p":"P1","g":"Low","t":5.9,"s":0.395},{"p":"P1","g":"Low","t":6.8,"s":0.353},{"p":"P1","g":"Low","t":7.5,"s":0.29},{"p":"P1","g":"Low","t":8.6,"s":0.29},{"p":"P1","g":"Low","t":8.9,"s":0.29},{"p":"P1","g":"Low","t":9.2,"s":0.29},{"p":"P1","g":"Low","t":9.5,"s":0.29},{"p":"P1","g":"Low","t":10.0,"s":0.214},{"p":"P1","g":"Low","t":10.35,"s":0.214},
{"p":"P1","g":"High","t":0.5,"s":0.906},{"p":"P1","g":"High","t":0.9,"s":0.906},{"p":"P1","g":"High","t":1.0,"s":0.906},{"p":"P1","g":"High","t":1.1,"s":0.906},{"p":"P1","g":"High","t":1.3,"s":0.88},{"p":"P1","g":"High","t":1.7,"s":0.856},{"p":"P1","g":"High","t":2.0,"s":0.83},{"p":"P1","g":"High","t":2.2,"s":0.83},{"p":"P1","g":"High","t":2.5,"s":0.805},{"p":"P1","g":"High","t":2.9,"s":0.78},{"p":"P1","g":"High","t":3.3,"s":0.755},{"p":"P1","g":"High","t":3.5,"s":0.755},{"p":"P1","g":"High","t":3.9,"s":0.73},{"p":"P1","g":"High","t":4.1,"s":0.73},{"p":"P1","g":"High","t":4.3,"s":0.73},{"p":"P1","g":"High","t":4.6,"s":0.713},{"p":"P1","g":"High","t":5.1,"s":0.69},{"p":"P1","g":"High","t":5.7,"s":0.663},{"p":"P1","g":"High","t":5.95,"s":0.638},{"p":"P1","g":"High","t":6.8,"s":0.563},{"p":"P1","g":"High","t":7.2,"s":0.563},{"p":"P1","g":"High","t":7.5,"s":0.563},{"p":"P1","g":"High","t":7.8,"s":0.53},{"p":"P1","g":"High","t":8.0,"s":0.53},{"p":"P1","g":"High","t":8.3,"s":0.53},{"p":"P1","g":"High","t":8.6,"s":0.53},{"p":"P1","g":"High","t":9.0,"s":0.53},{"p":"P1","g":"High","t":9.2,"s":0.53},{"p":"P1","g":"High","t":9.4,"s":0.53},{"p":"P1","g":"High","t":9.6,"s":0.53},{"p":"P1","g":"High","t":9.9,"s":0.454},{"p":"P1","g":"High","t":10.8,"s":0.454},{"p":"P1","g":"High","t":12.5,"s":0.454},
{"p":"P2","g":"Low","t":0.2,"s":1},{"p":"P2","g":"Low","t":0.4,"s":0.985},{"p":"P2","g":"Low","t":1.2,"s":0.915},{"p":"P2","g":"Low","t":1.5,"s":0.9},{"p":"P2","g":"Low","t":1.6,"s":0.9},{"p":"P2","g":"Low","t":1.9,"s":0.88},{"p":"P2","g":"Low","t":2.2,"s":0.865},{"p":"P2","g":"Low","t":2.6,"s":0.805},{"p":"P2","g":"Low","t":2.9,"s":0.765},{"p":"P2","g":"Low","t":3.1,"s":0.73},{"p":"P2","g":"Low","t":3.3,"s":0.705},{"p":"P2","g":"Low","t":3.6,"s":0.67},{"p":"P2","g":"Low","t":3.8,"s":0.655},{"p":"P2","g":"Low","t":3.9,"s":0.655},{"p":"P2","g":"Low","t":4.1,"s":0.64},{"p":"P2","g":"Low","t":4.2,"s":0.64},{"p":"P2","g":"Low","t":4.3,"s":0.64},{"p":"P2","g":"Low","t":4.7,"s":0.563},{"p":"P2","g":"Low","t":5.0,"s":0.563},{"p":"P2","g":"Low","t":5.3,"s":0.563},{"p":"P2","g":"Low","t":5.6,"s":0.563},{"p":"P2","g":"Low","t":6.3,"s":0.487},{"p":"P2","g":"Low","t":6.5,"s":0.487},{"p":"P2","g":"Low","t":6.7,"s":0.487},{"p":"P2","g":"Low","t":7.2,"s":0.487},{"p":"P2","g":"Low","t":7.8,"s":0.487},{"p":"P2","g":"Low","t":8.9,"s":0.487},{"p":"P2","g":"Low","t":9.4,"s":0.487},{"p":"P2","g":"Low","t":10.7,"s":0.487},{"p":"P2","g":"Low","t":11.25,"s":0.487},
{"p":"P2","g":"High","t":0,"s":1},{"p":"P2","g":"High","t":0.5,"s":1},{"p":"P2","g":"High","t":0.95,"s":0.98},{"p":"P2","g":"High","t":1.3,"s":0.965},{"p":"P2","g":"High","t":1.5,"s":0.95},{"p":"P2","g":"High","t":2.1,"s":0.9},{"p":"P2","g":"High","t":2.6,"s":0.89},{"p":"P2","g":"High","t":2.8,"s":0.89},{"p":"P2","g":"High","t":3.0,"s":0.89},{"p":"P2","g":"High","t":3.1,"s":0.89},{"p":"P2","g":"High","t":3.3,"s":0.89},{"p":"P2","g":"High","t":3.5,"s":0.89},{"p":"P2","g":"High","t":3.8,"s":0.89},{"p":"P2","g":"High","t":4.3,"s":0.865},{"p":"P2","g":"High","t":4.6,"s":0.848},{"p":"P2","g":"High","t":4.9,"s":0.82},{"p":"P2","g":"High","t":5.1,"s":0.82},{"p":"P2","g":"High","t":5.2,"s":0.82},{"p":"P2","g":"High","t":5.4,"s":0.82},{"p":"P2","g":"High","t":5.6,"s":0.82},{"p":"P2","g":"High","t":6.1,"s":0.797},{"p":"P2","g":"High","t":6.4,"s":0.797},{"p":"P2","g":"High","t":7.0,"s":0.747},{"p":"P2","g":"High","t":7.4,"s":0.747},{"p":"P2","g":"High","t":8.0,"s":0.747},{"p":"P2","g":"High","t":8.9,"s":0.747},{"p":"P2","g":"High","t":9.2,"s":0.747},{"p":"P2","g":"High","t":9.4,"s":0.747},{"p":"P2","g":"High","t":10.3,"s":0.747},{"p":"P2","g":"High","t":10.6,"s":0.747},{"p":"P2","g":"High","t":11.3,"s":0.747},
{"p":"P3","g":"Low","t":0.1,"s":1},{"p":"P3","g":"Low","t":0.6,"s":0.95},{"p":"P3","g":"Low","t":1.0,"s":0.89},{"p":"P3","g":"Low","t":1.2,"s":0.866},{"p":"P3","g":"Low","t":1.4,"s":0.84},{"p":"P3","g":"Low","t":1.5,"s":0.84},{"p":"P3","g":"Low","t":1.8,"s":0.815},{"p":"P3","g":"Low","t":2.3,"s":0.773},{"p":"P3","g":"Low","t":3.6,"s":0.664},{"p":"P3","g":"Low","t":3.8,"s":0.664},{"p":"P3","g":"Low","t":4.0,"s":0.664},{"p":"P3","g":"Low","t":4.2,"s":0.664},{"p":"P3","g":"Low","t":4.6,"s":0.566},{"p":"P3","g":"Low","t":4.8,"s":0.566},{"p":"P3","g":"Low","t":5.0,"s":0.566},{"p":"P3","g":"Low","t":5.2,"s":0.566},{"p":"P3","g":"Low","t":5.4,"s":0.566},{"p":"P3","g":"Low","t":5.6,"s":0.566},{"p":"P3","g":"Low","t":6.7,"s":0.462},{"p":"P3","g":"Low","t":7.7,"s":0.4},{"p":"P3","g":"Low","t":7.9,"s":0.4},{"p":"P3","g":"Low","t":8.4,"s":0.4},{"p":"P3","g":"Low","t":9.0,"s":0.4},{"p":"P3","g":"Low","t":9.2,"s":0.4},{"p":"P3","g":"Low","t":9.5,"s":0.4},{"p":"P3","g":"Low","t":10.0,"s":0.4},
{"p":"P3","g":"High","t":0,"s":1},{"p":"P3","g":"High","t":1.05,"s":0.94},{"p":"P3","g":"High","t":1.25,"s":0.916},{"p":"P3","g":"High","t":1.45,"s":0.89},{"p":"P3","g":"High","t":1.9,"s":0.866},{"p":"P3","g":"High","t":2.6,"s":0.773},{"p":"P3","g":"High","t":3.1,"s":0.748},{"p":"P3","g":"High","t":3.5,"s":0.748},{"p":"P3","g":"High","t":3.7,"s":0.748},{"p":"P3","g":"High","t":3.9,"s":0.748},{"p":"P3","g":"High","t":4.1,"s":0.748},{"p":"P3","g":"High","t":4.3,"s":0.748},{"p":"P3","g":"High","t":4.8,"s":0.664},{"p":"P3","g":"High","t":5.0,"s":0.664},{"p":"P3","g":"High","t":5.1,"s":0.664},{"p":"P3","g":"High","t":5.3,"s":0.664},{"p":"P3","g":"High","t":5.9,"s":0.613},{"p":"P3","g":"High","t":6.2,"s":0.613},{"p":"P3","g":"High","t":6.9,"s":0.571},{"p":"P3","g":"High","t":7.3,"s":0.571},{"p":"P3","g":"High","t":8.1,"s":0.53},{"p":"P3","g":"High","t":8.3,"s":0.53},{"p":"P3","g":"High","t":8.8,"s":0.53},{"p":"P3","g":"High","t":9.0,"s":0.53},{"p":"P3","g":"High","t":9.3,"s":0.53},{"p":"P3","g":"High","t":10.6,"s":0.53},{"p":"P3","g":"High","t":10.9,"s":0.53},{"p":"P3","g":"High","t":11.1,"s":0.53},{"p":"P3","g":"High","t":12.5,"s":0.53},
{"p":"P4","g":"Low","t":0.25,"s":0.98},{"p":"P4","g":"Low","t":0.8,"s":0.89},{"p":"P4","g":"Low","t":1.2,"s":0.84},{"p":"P4","g":"Low","t":1.4,"s":0.84},{"p":"P4","g":"Low","t":1.6,"s":0.824},{"p":"P4","g":"Low","t":1.7,"s":0.824},{"p":"P4","g":"Low","t":1.9,"s":0.798},{"p":"P4","g":"Low","t":2.0,"s":0.798},{"p":"P4","g":"Low","t":2.3,"s":0.773},{"p":"P4","g":"Low","t":2.5,"s":0.748},{"p":"P4","g":"Low","t":2.8,"s":0.723},{"p":"P4","g":"Low","t":3.1,"s":0.697},{"p":"P4","g":"Low","t":3.4,"s":0.672},{"p":"P4","g":"Low","t":3.5,"s":0.672},{"p":"P4","g":"Low","t":3.7,"s":0.647},{"p":"P4","g":"Low","t":3.9,"s":0.62},{"p":"P4","g":"Low","t":4.2,"s":0.597},{"p":"P4","g":"Low","t":4.4,"s":0.571},{"p":"P4","g":"Low","t":4.7,"s":0.546},{"p":"P4","g":"Low","t":4.9,"s":0.546},{"p":"P4","g":"Low","t":5.2,"s":0.546},{"p":"P4","g":"Low","t":5.55,"s":0.479},{"p":"P4","g":"Low","t":5.85,"s":0.462},{"p":"P4","g":"Low","t":5.95,"s":0.462},{"p":"P4","g":"Low","t":6.3,"s":0.454},{"p":"P4","g":"Low","t":6.6,"s":0.44},{"p":"P4","g":"Low","t":6.8,"s":0.44},{"p":"P4","g":"Low","t":7.5,"s":0.42},{"p":"P4","g":"Low","t":7.8,"s":0.42},{"p":"P4","g":"Low","t":8.6,"s":0.42},{"p":"P4","g":"Low","t":8.8,"s":0.42},{"p":"P4","g":"Low","t":9.1,"s":0.42},{"p":"P4","g":"Low","t":9.4,"s":0.42},{"p":"P4","g":"Low","t":9.7,"s":0.42},{"p":"P4","g":"Low","t":10.3,"s":0.353},{"p":"P4","g":"Low","t":10.6,"s":0.353},{"p":"P4","g":"Low","t":11.0,"s":0.353},{"p":"P4","g":"Low","t":11.34,"s":0.353},
{"p":"P4","g":"High","t":0.05,"s":1},{"p":"P4","g":"High","t":0.4,"s":0.975},{"p":"P4","g":"High","t":0.7,"s":0.958},{"p":"P4","g":"High","t":1.1,"s":0.94},{"p":"P4","g":"High","t":1.4,"s":0.924},{"p":"P4","g":"High","t":1.7,"s":0.907},{"p":"P4","g":"High","t":2.0,"s":0.89},{"p":"P4","g":"High","t":2.1,"s":0.89},{"p":"P4","g":"High","t":2.4,"s":0.874},{"p":"P4","g":"High","t":2.5,"s":0.874},{"p":"P4","g":"High","t":2.8,"s":0.857},{"p":"P4","g":"High","t":2.9,"s":0.857},{"p":"P4","g":"High","t":3.4,"s":0.824},{"p":"P4","g":"High","t":3.7,"s":0.798},{"p":"P4","g":"High","t":4.0,"s":0.78},{"p":"P4","g":"High","t":4.3,"s":0.765},{"p":"P4","g":"High","t":4.5,"s":0.765},{"p":"P4","g":"High","t":4.7,"s":0.765},{"p":"P4","g":"High","t":4.8,"s":0.765},{"p":"P4","g":"High","t":4.9,"s":0.765},{"p":"P4","g":"High","t":5.0,"s":0.765},{"p":"P4","g":"High","t":5.1,"s":0.765},{"p":"P4","g":"High","t":5.3,"s":0.765},{"p":"P4","g":"High","t":5.6,"s":0.748},{"p":"P4","g":"High","t":5.9,"s":0.73},{"p":"P4","g":"High","t":6.2,"s":0.714},{"p":"P4","g":"High","t":6.5,"s":0.697},{"p":"P4","g":"High","t":7.1,"s":0.64},{"p":"P4","g":"High","t":7.2,"s":0.64},{"p":"P4","g":"High","t":7.3,"s":0.64},{"p":"P4","g":"High","t":7.6,"s":0.64},{"p":"P4","g":"High","t":7.8,"s":0.64},{"p":"P4","g":"High","t":8.6,"s":0.64},{"p":"P4","g":"High","t":8.9,"s":0.64},{"p":"P4","g":"High","t":9.1,"s":0.64},{"p":"P4","g":"High","t":9.4,"s":0.64},{"p":"P4","g":"High","t":10.1,"s":0.51},{"p":"P4","g":"High","t":10.7,"s":0.51},{"p":"P4","g":"High","t":11.08,"s":0.51},
{"p":"P5","g":"Low","t":0.4,"s":0.99},{"p":"P5","g":"Low","t":0.6,"s":0.99},{"p":"P5","g":"Low","t":0.9,"s":0.978},{"p":"P5","g":"Low","t":1.1,"s":0.96},{"p":"P5","g":"Low","t":1.5,"s":0.945},{"p":"P5","g":"Low","t":2.0,"s":0.928},{"p":"P5","g":"Low","t":2.5,"s":0.91},{"p":"P5","g":"Low","t":3.0,"s":0.894},{"p":"P5","g":"Low","t":3.4,"s":0.86},{"p":"P5","g":"Low","t":3.7,"s":0.835},{"p":"P5","g":"Low","t":3.8,"s":0.835},{"p":"P5","g":"Low","t":4.1,"s":0.818},{"p":"P5","g":"Low","t":4.8,"s":0.684},{"p":"P5","g":"Low","t":5.0,"s":0.684},{"p":"P5","g":"Low","t":5.3,"s":0.667},{"p":"P5","g":"Low","t":5.6,"s":0.659},{"p":"P5","g":"Low","t":5.8,"s":0.659},{"p":"P5","g":"Low","t":6.1,"s":0.659},{"p":"P5","g":"Low","t":6.6,"s":0.63},{"p":"P5","g":"Low","t":6.9,"s":0.63},{"p":"P5","g":"Low","t":7.5,"s":0.524},{"p":"P5","g":"Low","t":7.9,"s":0.524},{"p":"P5","g":"Low","t":8.8,"s":0.524},{"p":"P5","g":"Low","t":9.0,"s":0.524},{"p":"P5","g":"Low","t":9.3,"s":0.524},{"p":"P5","g":"Low","t":9.6,"s":0.524},
{"p":"P5","g":"High","t":0.05,"s":1},{"p":"P5","g":"High","t":0.5,"s":0.97},{"p":"P5","g":"High","t":0.8,"s":0.953},{"p":"P5","g":"High","t":1.2,"s":0.945},{"p":"P5","g":"High","t":1.4,"s":0.945},{"p":"P5","g":"High","t":1.5,"s":0.945},{"p":"P5","g":"High","t":1.9,"s":0.928},{"p":"P5","g":"High","t":2.4,"s":0.91},{"p":"P5","g":"High","t":2.9,"s":0.903},{"p":"P5","g":"High","t":3.3,"s":0.886},{"p":"P5","g":"High","t":3.5,"s":0.886},{"p":"P5","g":"High","t":4.0,"s":0.869},{"p":"P5","g":"High","t":4.3,"s":0.869},{"p":"P5","g":"High","t":4.5,"s":0.869},{"p":"P5","g":"High","t":4.7,"s":0.869},{"p":"P5","g":"High","t":4.9,"s":0.869},{"p":"P5","g":"High","t":5.1,"s":0.869},{"p":"P5","g":"High","t":5.3,"s":0.869},{"p":"P5","g":"High","t":5.5,"s":0.869},{"p":"P5","g":"High","t":6.0,"s":0.835},{"p":"P5","g":"High","t":6.2,"s":0.835},{"p":"P5","g":"High","t":6.7,"s":0.7},{"p":"P5","g":"High","t":7.1,"s":0.7},{"p":"P5","g":"High","t":7.8,"s":0.7},{"p":"P5","g":"High","t":8.0,"s":0.7},{"p":"P5","g":"High","t":8.3,"s":0.7},{"p":"P5","g":"High","t":8.6,"s":0.7},{"p":"P5","g":"High","t":8.8,"s":0.7},{"p":"P5","g":"High","t":9.3,"s":0.7},{"p":"P5","g":"High","t":10.0,"s":0.7},{"p":"P5","g":"High","t":11.0,"s":0.7},{"p":"P5","g":"High","t":12.5,"s":0.7},
{"p":"P6","g":"Low","t":0.1,"s":0.978},{"p":"P6","g":"Low","t":0.5,"s":0.91},{"p":"P6","g":"Low","t":0.75,"s":0.886},{"p":"P6","g":"Low","t":1.3,"s":0.76},{"p":"P6","g":"Low","t":1.6,"s":0.734},{"p":"P6","g":"Low","t":2.2,"s":0.684},{"p":"P6","g":"Low","t":2.7,"s":0.634},{"p":"P6","g":"Low","t":3.2,"s":0.575},{"p":"P6","g":"Low","t":3.5,"s":0.55},{"p":"P6","g":"Low","t":3.9,"s":0.49},{"p":"P6","g":"Low","t":4.2,"s":0.466},{"p":"P6","g":"Low","t":4.6,"s":0.4},{"p":"P6","g":"Low","t":4.8,"s":0.4},{"p":"P6","g":"Low","t":5.1,"s":0.4},{"p":"P6","g":"Low","t":5.8,"s":0.323},{"p":"P6","g":"Low","t":5.9,"s":0.323},{"p":"P6","g":"Low","t":6.5,"s":0.26},{"p":"P6","g":"Low","t":6.6,"s":0.26},{"p":"P6","g":"Low","t":7.1,"s":0.26},{"p":"P6","g":"Low","t":7.6,"s":0.26},{"p":"P6","g":"Low","t":9.6,"s":0.26},{"p":"P6","g":"Low","t":10.1,"s":0.213},{"p":"P6","g":"Low","t":10.5,"s":0.213},{"p":"P6","g":"Low","t":10.8,"s":0.213},{"p":"P6","g":"Low","t":11.2,"s":0.213},
{"p":"P6","g":"High","t":0.1,"s":1},{"p":"P6","g":"High","t":0.45,"s":0.953},{"p":"P6","g":"High","t":1.2,"s":0.91},{"p":"P6","g":"High","t":1.3,"s":0.91},{"p":"P6","g":"High","t":2.1,"s":0.81},{"p":"P6","g":"High","t":2.3,"s":0.776},{"p":"P6","g":"High","t":2.6,"s":0.751},{"p":"P6","g":"High","t":3.0,"s":0.718},{"p":"P6","g":"High","t":3.1,"s":0.718},{"p":"P6","g":"High","t":3.2,"s":0.718},{"p":"P6","g":"High","t":3.4,"s":0.718},{"p":"P6","g":"High","t":3.8,"s":0.7},{"p":"P6","g":"High","t":4.1,"s":0.676},{"p":"P6","g":"High","t":4.2,"s":0.676},{"p":"P6","g":"High","t":4.5,"s":0.659},{"p":"P6","g":"High","t":4.7,"s":0.634},{"p":"P6","g":"High","t":5.1,"s":0.625},{"p":"P6","g":"High","t":5.3,"s":0.625},{"p":"P6","g":"High","t":5.6,"s":0.59},{"p":"P6","g":"High","t":6.3,"s":0.558},{"p":"P6","g":"High","t":6.6,"s":0.558},{"p":"P6","g":"High","t":6.9,"s":0.558},{"p":"P6","g":"High","t":7.2,"s":0.558},{"p":"P6","g":"High","t":7.4,"s":0.558},{"p":"P6","g":"High","t":7.6,"s":0.533},{"p":"P6","g":"High","t":9.0,"s":0.533},{"p":"P6","g":"High","t":9.2,"s":0.533},{"p":"P6","g":"High","t":9.4,"s":0.533},{"p":"P6","g":"High","t":9.9,"s":0.449},{"p":"P6","g":"High","t":10.2,"s":0.449},{"p":"P6","g":"High","t":10.8,"s":0.449},{"p":"P6","g":"High","t":11.0,"s":0.449},
{"p":"P7","g":"Low","t":0.1,"s":1},{"p":"P7","g":"Low","t":0.3,"s":0.987},{"p":"P7","g":"Low","t":0.5,"s":0.987},{"p":"P7","g":"Low","t":0.8,"s":0.978},{"p":"P7","g":"Low","t":0.9,"s":0.978},{"p":"P7","g":"Low","t":1.1,"s":0.97},{"p":"P7","g":"Low","t":1.2,"s":0.97},{"p":"P7","g":"Low","t":1.5,"s":0.953},{"p":"P7","g":"Low","t":1.9,"s":0.936},{"p":"P7","g":"Low","t":2.1,"s":0.936},{"p":"P7","g":"Low","t":2.5,"s":0.928},{"p":"P7","g":"Low","t":2.8,"s":0.91},{"p":"P7","g":"Low","t":3.5,"s":0.86},{"p":"P7","g":"Low","t":3.9,"s":0.818},{"p":"P7","g":"Low","t":4.0,"s":0.818},{"p":"P7","g":"Low","t":4.5,"s":0.76},{"p":"P7","g":"Low","t":4.8,"s":0.734},{"p":"P7","g":"Low","t":5.0,"s":0.734},{"p":"P7","g":"Low","t":5.2,"s":0.734},{"p":"P7","g":"Low","t":5.4,"s":0.734},{"p":"P7","g":"Low","t":5.6,"s":0.734},{"p":"P7","g":"Low","t":6.0,"s":0.709},{"p":"P7","g":"Low","t":6.4,"s":0.634},{"p":"P7","g":"Low","t":6.6,"s":0.634},{"p":"P7","g":"Low","t":7.6,"s":0.583},{"p":"P7","g":"Low","t":7.9,"s":0.583},{"p":"P7","g":"Low","t":8.8,"s":0.583},{"p":"P7","g":"Low","t":9.0,"s":0.583},{"p":"P7","g":"Low","t":9.2,"s":0.583},{"p":"P7","g":"Low","t":9.5,"s":0.583},{"p":"P7","g":"Low","t":10.3,"s":0.466},{"p":"P7","g":"Low","t":10.6,"s":0.466},{"p":"P7","g":"Low","t":10.9,"s":0.466},
{"p":"P7","g":"High","t":0.05,"s":1},{"p":"P7","g":"High","t":0.4,"s":0.99},{"p":"P7","g":"High","t":0.9,"s":0.975},{"p":"P7","g":"High","t":1.3,"s":0.97},{"p":"P7","g":"High","t":1.4,"s":0.97},{"p":"P7","g":"High","t":1.8,"s":0.958},{"p":"P7","g":"High","t":2.5,"s":0.93},{"p":"P7","g":"High","t":2.9,"s":0.92},{"p":"P7","g":"High","t":3.3,"s":0.907},{"p":"P7","g":"High","t":3.6,"s":0.886},{"p":"P7","g":"High","t":3.8,"s":0.886},{"p":"P7","g":"High","t":4.1,"s":0.874},{"p":"P7","g":"High","t":4.3,"s":0.874},{"p":"P7","g":"High","t":4.6,"s":0.86},{"p":"P7","g":"High","t":4.8,"s":0.86},{"p":"P7","g":"High","t":5.0,"s":0.86},{"p":"P7","g":"High","t":5.2,"s":0.86},{"p":"P7","g":"High","t":5.4,"s":0.86},{"p":"P7","g":"High","t":5.7,"s":0.835},{"p":"P7","g":"High","t":6.0,"s":0.818},{"p":"P7","g":"High","t":6.4,"s":0.776},{"p":"P7","g":"High","t":6.9,"s":0.696},{"p":"P7","g":"High","t":7.1,"s":0.696},{"p":"P7","g":"High","t":7.7,"s":0.659},{"p":"P7","g":"High","t":7.9,"s":0.659},{"p":"P7","g":"High","t":8.1,"s":0.659},{"p":"P7","g":"High","t":8.5,"s":0.659},{"p":"P7","g":"High","t":8.8,"s":0.659},{"p":"P7","g":"High","t":9.2,"s":0.659},{"p":"P7","g":"High","t":9.5,"s":0.659},{"p":"P7","g":"High","t":10.0,"s":0.659},{"p":"P7","g":"High","t":10.3,"s":0.659},{"p":"P7","g":"High","t":11.1,"s":0.659},{"p":"P7","g":"High","t":12.5,"s":0.659},
{"p":"P8","g":"Low","t":1.2,"s":0.726},{"p":"P8","g":"Low","t":1.7,"s":0.659},{"p":"P8","g":"Low","t":2.0,"s":0.634},{"p":"P8","g":"Low","t":2.7,"s":0.541},{"p":"P8","g":"Low","t":3.1,"s":0.508},{"p":"P8","g":"Low","t":3.9,"s":0.424},{"p":"P8","g":"Low","t":4.1,"s":0.424},{"p":"P8","g":"Low","t":4.3,"s":0.424},{"p":"P8","g":"Low","t":4.8,"s":0.365},{"p":"P8","g":"Low","t":5.2,"s":0.365},{"p":"P8","g":"Low","t":5.6,"s":0.28},{"p":"P8","g":"Low","t":5.9,"s":0.28},{"p":"P8","g":"Low","t":6.6,"s":0.264},{"p":"P8","g":"Low","t":7.3,"s":0.23},{"p":"P8","g":"Low","t":7.9,"s":0.23},{"p":"P8","g":"Low","t":9.0,"s":0.23},{"p":"P8","g":"Low","t":9.3,"s":0.23},{"p":"P8","g":"Low","t":9.6,"s":0.23},{"p":"P8","g":"Low","t":10.3,"s":0.23},{"p":"P8","g":"Low","t":11.34,"s":0.23},
{"p":"P8","g":"High","t":0.55,"s":0.886},{"p":"P8","g":"High","t":0.9,"s":0.86},{"p":"P8","g":"High","t":1.85,"s":0.709},{"p":"P8","g":"High","t":2.3,"s":0.659},{"p":"P8","g":"High","t":2.6,"s":0.625},{"p":"P8","g":"High","t":2.8,"s":0.608},{"p":"P8","g":"High","t":3.2,"s":0.566},{"p":"P8","g":"High","t":3.4,"s":0.566},{"p":"P8","g":"High","t":3.6,"s":0.566},{"p":"P8","g":"High","t":3.8,"s":0.566},{"p":"P8","g":"High","t":4.0,"s":0.566},{"p":"P8","g":"High","t":4.4,"s":0.524},{"p":"P8","g":"High","t":4.9,"s":0.444},{"p":"P8","g":"High","t":5.1,"s":0.444},{"p":"P8","g":"High","t":6.2,"s":0.424},{"p":"P8","g":"High","t":6.6,"s":0.424},{"p":"P8","g":"High","t":7.0,"s":0.424},{"p":"P8","g":"High","t":7.4,"s":0.424},{"p":"P8","g":"High","t":7.6,"s":0.424},{"p":"P8","g":"High","t":7.7,"s":0.424},{"p":"P8","g":"High","t":8.9,"s":0.424},{"p":"P8","g":"High","t":9.5,"s":0.424},{"p":"P8","g":"High","t":11.08,"s":0.314}
],
"ann":[
{"p":"P1","t":-0.22,"s":0.1,"label":"HR =0.53 (0.36–0.77) (high)"},{"p":"P1","t":-0.22,"s":0.015,"label":"P=0.001"},
{"p":"P2","t":-0.06,"s":0.1,"label":"HR =0.37 (0.21–0.64) (high)"},{"p":"P2","t":-0.06,"s":0.015,"label":"P<0.001"},
{"p":"P3","t":-0.06,"s":0.1,"label":"HR =0.72 (0.44–1.20) (high)"},{"p":"P3","t":-0.06,"s":0.015,"label":"P=0.207"},
{"p":"P4","t":0,"s":0.1,"label":"HR =0.49 (0.33–0.73) (high)"},{"p":"P4","t":0,"s":0.015,"label":"P<0.001"},
{"p":"P5","t":-0.2,"s":0.1,"label":"HR =0.59 (0.32–1.10) (high)"},{"p":"P5","t":-0.2,"s":0.015,"label":"P=0.097"},
{"p":"P6","t":-0.06,"s":0.1,"label":"HR =0.50 (0.35–0.72) (high)"},{"p":"P6","t":-0.06,"s":0.015,"label":"P<0.001"},
{"p":"P7","t":-0.04,"s":0.1,"label":"HR =0.67 (0.39–1.14) (high)"},{"p":"P7","t":-0.04,"s":0.015,"label":"P=0.143"},
{"p":"P8","t":0,"s":0.1,"label":"HR =0.72 (0.50–1.04) (high)"},{"p":"P8","t":0,"s":0.015,"label":"P=0.078"}
]
},
"spacing":24,
"resolve":{"scale":{"fill":"independent","stroke":"independent"},"legend":{"fill":"independent","stroke":"independent"}},
"vconcat":[
{"spacing":66,"resolve":{"scale":{"fill":"independent","stroke":"independent"},"legend":{"fill":"independent","stroke":"independent"}},"hconcat":[
 {"title":{"text":"A","anchor":"start","font":"Open Sans","fontSize":27,"fontWeight":"normal","color":"#111","offset":-17},"spacing":12,"resolve":{"scale":{"fill":"independent","stroke":"independent"},"legend":{"fill":"independent","stroke":"independent"}},"hconcat":[
  {"width":238,"height":219,"title":{"text":"Age ≥60 years","offset":3},
   "encoding":{"x":{"field":"t","type":"quantitative","scale":{"domain":[-0.625,13.125],"nice":false,"zero":false},"axis":{"values":[0,2.5,5,7.5,10,12.5],"format":".1f","title":"Time in years"}}},
   "layer":[
    {"data":{"name":"km"},"transform":[{"filter":"datum.p=='P1'"}],"mark":{"type":"area","interpolate":"step-after","opacity":0.42},"encoding":{"y":{"field":"lo","type":"quantitative","scale":{"domain":[-0.05,1.05],"nice":false,"zero":false},"axis":{"values":[0,0.2,0.4,0.6,0.8,1],"format":".1f","title":"Survival probability"}},"y2":{"field":"hi"},"fill":{"field":"g","type":"nominal","scale":{"domain":["Low","High"],"range":["#4DBBD5","#E64B35"]},"legend":{"title":null,"orient":"none","legendX":128,"legendY":-27,"direction":"horizontal","symbolType":"M-1,-0.62H1V0.62H-1Z","symbolOpacity":0.42,"symbolStrokeWidth":0,"labelExpr":"''","columnPadding":30.5}}}},
    {"data":{"name":"km"},"transform":[{"filter":"datum.p=='P1'"}],"mark":{"type":"line","interpolate":"step-after","strokeWidth":1.4},"encoding":{"y":{"field":"s","type":"quantitative","axis":{"values":[0,0.2,0.4,0.6,0.8,1],"format":".1f","title":"Survival probability"}},"stroke":{"field":"g","type":"nominal","sort":["Low","High"],"scale":{"range":["#3DB0CC","#E64B35"]},"legend":{"title":"Expression of OGDHL","orient":"none","legendX":-13,"legendY":-27,"direction":"horizontal","symbolType":"M-1,0H1M0,-0.36V0.36","symbolStrokeWidth":1.4,"symbolFillColor":"transparent"}}}},
    {"data":{"name":"cens"},"transform":[{"filter":"datum.p=='P1'"}],"mark":{"type":"point","shape":"M-1,0H1M0,-1V1","size":50,"filled":false,"strokeWidth":1.2,"opacity":1},"encoding":{"y":{"field":"s","type":"quantitative","axis":{"values":[0,0.2,0.4,0.6,0.8,1],"format":".1f","title":"Survival probability"}},"stroke":{"field":"g","type":"nominal","sort":["Low","High"],"legend":null}}},
    {"data":{"name":"ann"},"transform":[{"filter":"datum.p=='P1'"}],"mark":{"type":"text","align":"left","baseline":"middle","fontSize":13,"color":"#333"},"encoding":{"y":{"field":"s","type":"quantitative","axis":{"values":[0,0.2,0.4,0.6,0.8,1],"format":".1f","title":"Survival probability"}},"text":{"field":"label"}}}
   ]},
  {"width":238,"height":219,"title":{"text":"Age <60 years","offset":3},
   "encoding":{"x":{"field":"t","type":"quantitative","scale":{"domain":[-0.57,11.75],"nice":false,"zero":false},"axis":{"values":[0,3,6,9],"format":"d","title":"Time in years"}}},
   "layer":[
    {"data":{"name":"km"},"transform":[{"filter":"datum.p=='P2'"}],"mark":{"type":"area","interpolate":"step-after","opacity":0.42},"encoding":{"y":{"field":"lo","type":"quantitative","scale":{"domain":[-0.05,1.05],"nice":false,"zero":false},"axis":{"values":[0,0.2,0.4,0.6,0.8,1],"format":".1f","title":"Survival probability"}},"y2":{"field":"hi"},"fill":{"field":"g","type":"nominal","scale":{"domain":["Low","High"],"range":["#4DBBD5","#E64B35"]},"legend":{"title":null,"orient":"none","legendX":128,"legendY":-27,"direction":"horizontal","symbolType":"M-1,-0.62H1V0.62H-1Z","symbolOpacity":0.42,"symbolStrokeWidth":0,"labelExpr":"''","columnPadding":30.5}}}},
    {"data":{"name":"km"},"transform":[{"filter":"datum.p=='P2'"}],"mark":{"type":"line","interpolate":"step-after","strokeWidth":1.4},"encoding":{"y":{"field":"s","type":"quantitative","axis":{"values":[0,0.2,0.4,0.6,0.8,1],"format":".1f","title":"Survival probability"}},"stroke":{"field":"g","type":"nominal","sort":["Low","High"],"scale":{"range":["#3DB0CC","#E64B35"]},"legend":{"title":"Expression of OGDHL","orient":"none","legendX":-13,"legendY":-27,"direction":"horizontal","symbolType":"M-1,0H1M0,-0.36V0.36","symbolStrokeWidth":1.4,"symbolFillColor":"transparent"}}}},
    {"data":{"name":"cens"},"transform":[{"filter":"datum.p=='P2'"}],"mark":{"type":"point","shape":"M-1,0H1M0,-1V1","size":50,"filled":false,"strokeWidth":1.2,"opacity":1},"encoding":{"y":{"field":"s","type":"quantitative","axis":{"values":[0,0.2,0.4,0.6,0.8,1],"format":".1f","title":"Survival probability"}},"stroke":{"field":"g","type":"nominal","sort":["Low","High"],"legend":null}}},
    {"data":{"name":"ann"},"transform":[{"filter":"datum.p=='P2'"}],"mark":{"type":"text","align":"left","baseline":"middle","fontSize":13,"color":"#333"},"encoding":{"y":{"field":"s","type":"quantitative","axis":{"values":[0,0.2,0.4,0.6,0.8,1],"format":".1f","title":"Survival probability"}},"text":{"field":"label"}}}
   ]}
 ]},
 {"title":{"text":"B","anchor":"start","font":"Open Sans","fontSize":27,"fontWeight":"normal","color":"#111","offset":-17},"spacing":12,"resolve":{"scale":{"fill":"independent","stroke":"independent"},"legend":{"fill":"independent","stroke":"independent"}},"hconcat":[
  {"width":238,"height":219,"title":{"text":"Female","offset":3},
   "encoding":{"x":{"field":"t","type":"quantitative","scale":{"domain":[-0.625,13.125],"nice":false,"zero":false},"axis":{"values":[0,2.5,5,7.5,10,12.5],"format":".1f","title":"Time in years"}}},
   "layer":[
    {"data":{"name":"km"},"transform":[{"filter":"datum.p=='P3'"}],"mark":{"type":"area","interpolate":"step-after","opacity":0.42},"encoding":{"y":{"field":"lo","type":"quantitative","scale":{"domain":[-0.05,1.05],"nice":false,"zero":false},"axis":{"values":[0,0.2,0.4,0.6,0.8,1],"format":".1f","title":"Survival probability"}},"y2":{"field":"hi"},"fill":{"field":"g","type":"nominal","scale":{"domain":["Low","High"],"range":["#4DBBD5","#E64B35"]},"legend":{"title":null,"orient":"none","legendX":128,"legendY":-27,"direction":"horizontal","symbolType":"M-1,-0.62H1V0.62H-1Z","symbolOpacity":0.42,"symbolStrokeWidth":0,"labelExpr":"''","columnPadding":30.5}}}},
    {"data":{"name":"km"},"transform":[{"filter":"datum.p=='P3'"}],"mark":{"type":"line","interpolate":"step-after","strokeWidth":1.4},"encoding":{"y":{"field":"s","type":"quantitative","axis":{"values":[0,0.2,0.4,0.6,0.8,1],"format":".1f","title":"Survival probability"}},"stroke":{"field":"g","type":"nominal","sort":["Low","High"],"scale":{"range":["#3DB0CC","#E64B35"]},"legend":{"title":"Expression of OGDHL","orient":"none","legendX":-13,"legendY":-27,"direction":"horizontal","symbolType":"M-1,0H1M0,-0.36V0.36","symbolStrokeWidth":1.4,"symbolFillColor":"transparent"}}}},
    {"data":{"name":"cens"},"transform":[{"filter":"datum.p=='P3'"}],"mark":{"type":"point","shape":"M-1,0H1M0,-1V1","size":50,"filled":false,"strokeWidth":1.2,"opacity":1},"encoding":{"y":{"field":"s","type":"quantitative","axis":{"values":[0,0.2,0.4,0.6,0.8,1],"format":".1f","title":"Survival probability"}},"stroke":{"field":"g","type":"nominal","sort":["Low","High"],"legend":null}}},
    {"data":{"name":"ann"},"transform":[{"filter":"datum.p=='P3'"}],"mark":{"type":"text","align":"left","baseline":"middle","fontSize":13,"color":"#333"},"encoding":{"y":{"field":"s","type":"quantitative","axis":{"values":[0,0.2,0.4,0.6,0.8,1],"format":".1f","title":"Survival probability"}},"text":{"field":"label"}}}
   ]},
  {"width":238,"height":219,"title":{"text":"Male","offset":3},
   "encoding":{"x":{"field":"t","type":"quantitative","scale":{"domain":[-0.57,11.75],"nice":false,"zero":false},"axis":{"values":[0,3,6,9],"format":"d","title":"Time in years"}}},
   "layer":[
    {"data":{"name":"km"},"transform":[{"filter":"datum.p=='P4'"}],"mark":{"type":"area","interpolate":"step-after","opacity":0.42},"encoding":{"y":{"field":"lo","type":"quantitative","scale":{"domain":[-0.05,1.05],"nice":false,"zero":false},"axis":{"values":[0,0.2,0.4,0.6,0.8,1],"format":".1f","title":"Survival probability"}},"y2":{"field":"hi"},"fill":{"field":"g","type":"nominal","scale":{"domain":["Low","High"],"range":["#4DBBD5","#E64B35"]},"legend":{"title":null,"orient":"none","legendX":128,"legendY":-27,"direction":"horizontal","symbolType":"M-1,-0.62H1V0.62H-1Z","symbolOpacity":0.42,"symbolStrokeWidth":0,"labelExpr":"''","columnPadding":30.5}}}},
    {"data":{"name":"km"},"transform":[{"filter":"datum.p=='P4'"}],"mark":{"type":"line","interpolate":"step-after","strokeWidth":1.4},"encoding":{"y":{"field":"s","type":"quantitative","axis":{"values":[0,0.2,0.4,0.6,0.8,1],"format":".1f","title":"Survival probability"}},"stroke":{"field":"g","type":"nominal","sort":["Low","High"],"scale":{"range":["#3DB0CC","#E64B35"]},"legend":{"title":"Expression of OGDHL","orient":"none","legendX":-13,"legendY":-27,"direction":"horizontal","symbolType":"M-1,0H1M0,-0.36V0.36","symbolStrokeWidth":1.4,"symbolFillColor":"transparent"}}}},
    {"data":{"name":"cens"},"transform":[{"filter":"datum.p=='P4'"}],"mark":{"type":"point","shape":"M-1,0H1M0,-1V1","size":50,"filled":false,"strokeWidth":1.2,"opacity":1},"encoding":{"y":{"field":"s","type":"quantitative","axis":{"values":[0,0.2,0.4,0.6,0.8,1],"format":".1f","title":"Survival probability"}},"stroke":{"field":"g","type":"nominal","sort":["Low","High"],"legend":null}}},
    {"data":{"name":"ann"},"transform":[{"filter":"datum.p=='P4'"}],"mark":{"type":"text","align":"left","baseline":"middle","fontSize":13,"color":"#333"},"encoding":{"y":{"field":"s","type":"quantitative","axis":{"values":[0,0.2,0.4,0.6,0.8,1],"format":".1f","title":"Survival probability"}},"text":{"field":"label"}}}
   ]}
 ]}
]},
{"spacing":66,"resolve":{"scale":{"fill":"independent","stroke":"independent"},"legend":{"fill":"independent","stroke":"independent"}},"hconcat":[
 {"title":{"text":"C","anchor":"start","font":"Open Sans","fontSize":27,"fontWeight":"normal","color":"#111","offset":-17},"spacing":12,"resolve":{"scale":{"fill":"independent","stroke":"independent"},"legend":{"fill":"independent","stroke":"independent"}},"hconcat":[
  {"width":238,"height":219,"title":{"text":"G1 & 2","offset":10},
   "encoding":{"x":{"field":"t","type":"quantitative","scale":{"domain":[-0.625,13.125],"nice":false,"zero":false},"axis":{"values":[0,2.5,5,7.5,10,12.5],"format":".1f","title":"Time in years","titlePadding":5}}},
   "layer":[
    {"data":{"name":"km"},"transform":[{"filter":"datum.p=='P5'"}],"mark":{"type":"area","interpolate":"step-after","opacity":0.42},"encoding":{"y":{"field":"lo","type":"quantitative","scale":{"domain":[-0.05,1.05],"nice":false,"zero":false},"axis":{"values":[0,0.2,0.4,0.6,0.8,1],"format":".1f","title":"Survival probability"}},"y2":{"field":"hi"},"fill":{"field":"g","type":"nominal","scale":{"domain":["Low","High"],"range":["#4DBBD5","#E64B35"]},"legend":{"title":null,"orient":"none","legendX":128,"legendY":-27,"direction":"horizontal","symbolType":"M-1,-0.62H1V0.62H-1Z","symbolOpacity":0.42,"symbolStrokeWidth":0,"labelExpr":"''","columnPadding":30.5}}}},
    {"data":{"name":"km"},"transform":[{"filter":"datum.p=='P5'"}],"mark":{"type":"line","interpolate":"step-after","strokeWidth":1.4},"encoding":{"y":{"field":"s","type":"quantitative","axis":{"values":[0,0.2,0.4,0.6,0.8,1],"format":".1f","title":"Survival probability"}},"stroke":{"field":"g","type":"nominal","sort":["Low","High"],"scale":{"range":["#3DB0CC","#E64B35"]},"legend":{"title":"Expression of OGDHL","orient":"none","legendX":-13,"legendY":-27,"direction":"horizontal","symbolType":"M-1,0H1M0,-0.36V0.36","symbolStrokeWidth":1.4,"symbolFillColor":"transparent"}}}},
    {"data":{"name":"cens"},"transform":[{"filter":"datum.p=='P5'"}],"mark":{"type":"point","shape":"M-1,0H1M0,-1V1","size":50,"filled":false,"strokeWidth":1.2,"opacity":1},"encoding":{"y":{"field":"s","type":"quantitative","axis":{"values":[0,0.2,0.4,0.6,0.8,1],"format":".1f","title":"Survival probability"}},"stroke":{"field":"g","type":"nominal","sort":["Low","High"],"legend":null}}},
    {"data":{"name":"ann"},"transform":[{"filter":"datum.p=='P5'"}],"mark":{"type":"text","align":"left","baseline":"middle","fontSize":13,"color":"#333"},"encoding":{"y":{"field":"s","type":"quantitative","axis":{"values":[0,0.2,0.4,0.6,0.8,1],"format":".1f","title":"Survival probability"}},"text":{"field":"label"}}}
   ]},
  {"width":238,"height":219,"title":{"text":"G3 & 4","offset":10},
   "encoding":{"x":{"field":"t","type":"quantitative","scale":{"domain":[-0.57,11.75],"nice":false,"zero":false},"axis":{"values":[0,3,6,9],"format":"d","title":"Time in years","titlePadding":5}}},
   "layer":[
    {"data":{"name":"km"},"transform":[{"filter":"datum.p=='P6'"}],"mark":{"type":"area","interpolate":"step-after","opacity":0.42},"encoding":{"y":{"field":"lo","type":"quantitative","scale":{"domain":[-0.05,1.05],"nice":false,"zero":false},"axis":{"values":[0,0.2,0.4,0.6,0.8,1],"format":".1f","title":"Survival probability"}},"y2":{"field":"hi"},"fill":{"field":"g","type":"nominal","scale":{"domain":["Low","High"],"range":["#4DBBD5","#E64B35"]},"legend":{"title":null,"orient":"none","legendX":128,"legendY":-27,"direction":"horizontal","symbolType":"M-1,-0.62H1V0.62H-1Z","symbolOpacity":0.42,"symbolStrokeWidth":0,"labelExpr":"''","columnPadding":30.5}}}},
    {"data":{"name":"km"},"transform":[{"filter":"datum.p=='P6'"}],"mark":{"type":"line","interpolate":"step-after","strokeWidth":1.4},"encoding":{"y":{"field":"s","type":"quantitative","axis":{"values":[0,0.2,0.4,0.6,0.8,1],"format":".1f","title":"Survival probability"}},"stroke":{"field":"g","type":"nominal","sort":["Low","High"],"scale":{"range":["#3DB0CC","#E64B35"]},"legend":{"title":"Expression of OGDHL","orient":"none","legendX":-13,"legendY":-27,"direction":"horizontal","symbolType":"M-1,0H1M0,-0.36V0.36","symbolStrokeWidth":1.4,"symbolFillColor":"transparent"}}}},
    {"data":{"name":"cens"},"transform":[{"filter":"datum.p=='P6'"}],"mark":{"type":"point","shape":"M-1,0H1M0,-1V1","size":50,"filled":false,"strokeWidth":1.2,"opacity":1},"encoding":{"y":{"field":"s","type":"quantitative","axis":{"values":[0,0.2,0.4,0.6,0.8,1],"format":".1f","title":"Survival probability"}},"stroke":{"field":"g","type":"nominal","sort":["Low","High"],"legend":null}}},
    {"data":{"name":"ann"},"transform":[{"filter":"datum.p=='P6'"}],"mark":{"type":"text","align":"left","baseline":"middle","fontSize":13,"color":"#333"},"encoding":{"y":{"field":"s","type":"quantitative","axis":{"values":[0,0.2,0.4,0.6,0.8,1],"format":".1f","title":"Survival probability"}},"text":{"field":"label"}}}
   ]}
 ]},
 {"title":{"text":"D","anchor":"start","font":"Open Sans","fontSize":27,"fontWeight":"normal","color":"#111","offset":-17},"spacing":12,"resolve":{"scale":{"fill":"independent","stroke":"independent"},"legend":{"fill":"independent","stroke":"independent"}},"hconcat":[
  {"width":238,"height":219,"title":{"text":"Stage I & II","offset":10},
   "encoding":{"x":{"field":"t","type":"quantitative","scale":{"domain":[-0.625,13.125],"nice":false,"zero":false},"axis":{"values":[0,2.5,5,7.5,10,12.5],"format":".1f","title":"Time in years","titlePadding":5}}},
   "layer":[
    {"data":{"name":"km"},"transform":[{"filter":"datum.p=='P7'"}],"mark":{"type":"area","interpolate":"step-after","opacity":0.42},"encoding":{"y":{"field":"lo","type":"quantitative","scale":{"domain":[-0.05,1.05],"nice":false,"zero":false},"axis":{"values":[0,0.2,0.4,0.6,0.8,1],"format":".1f","title":"Survival probability"}},"y2":{"field":"hi"},"fill":{"field":"g","type":"nominal","scale":{"domain":["Low","High"],"range":["#4DBBD5","#E64B35"]},"legend":{"title":null,"orient":"none","legendX":128,"legendY":-27,"direction":"horizontal","symbolType":"M-1,-0.62H1V0.62H-1Z","symbolOpacity":0.42,"symbolStrokeWidth":0,"labelExpr":"''","columnPadding":30.5}}}},
    {"data":{"name":"km"},"transform":[{"filter":"datum.p=='P7'"}],"mark":{"type":"line","interpolate":"step-after","strokeWidth":1.4},"encoding":{"y":{"field":"s","type":"quantitative","axis":{"values":[0,0.2,0.4,0.6,0.8,1],"format":".1f","title":"Survival probability"}},"stroke":{"field":"g","type":"nominal","sort":["Low","High"],"scale":{"range":["#3DB0CC","#E64B35"]},"legend":{"title":"Expression of OGDHL","orient":"none","legendX":-13,"legendY":-27,"direction":"horizontal","symbolType":"M-1,0H1M0,-0.36V0.36","symbolStrokeWidth":1.4,"symbolFillColor":"transparent"}}}},
    {"data":{"name":"cens"},"transform":[{"filter":"datum.p=='P7'"}],"mark":{"type":"point","shape":"M-1,0H1M0,-1V1","size":50,"filled":false,"strokeWidth":1.2,"opacity":1},"encoding":{"y":{"field":"s","type":"quantitative","axis":{"values":[0,0.2,0.4,0.6,0.8,1],"format":".1f","title":"Survival probability"}},"stroke":{"field":"g","type":"nominal","sort":["Low","High"],"legend":null}}},
    {"data":{"name":"ann"},"transform":[{"filter":"datum.p=='P7'"}],"mark":{"type":"text","align":"left","baseline":"middle","fontSize":13,"color":"#333"},"encoding":{"y":{"field":"s","type":"quantitative","axis":{"values":[0,0.2,0.4,0.6,0.8,1],"format":".1f","title":"Survival probability"}},"text":{"field":"label"}}}
   ]},
  {"width":238,"height":219,"title":{"text":"Stage III & IV","offset":10},
   "encoding":{"x":{"field":"t","type":"quantitative","scale":{"domain":[-0.57,11.75],"nice":false,"zero":false},"axis":{"values":[0,3,6,9],"format":"d","title":"Time in years","titlePadding":5}}},
   "layer":[
    {"data":{"name":"km"},"transform":[{"filter":"datum.p=='P8'"}],"mark":{"type":"area","interpolate":"step-after","opacity":0.42},"encoding":{"y":{"field":"lo","type":"quantitative","scale":{"domain":[-0.05,1.05],"nice":false,"zero":false},"axis":{"values":[0,0.2,0.4,0.6,0.8,1],"format":".1f","title":"Survival probability"}},"y2":{"field":"hi"},"fill":{"field":"g","type":"nominal","scale":{"domain":["Low","High"],"range":["#4DBBD5","#E64B35"]},"legend":{"title":null,"orient":"none","legendX":128,"legendY":-27,"direction":"horizontal","symbolType":"M-1,-0.62H1V0.62H-1Z","symbolOpacity":0.42,"symbolStrokeWidth":0,"labelExpr":"''","columnPadding":30.5}}}},
    {"data":{"name":"km"},"transform":[{"filter":"datum.p=='P8'"}],"mark":{"type":"line","interpolate":"step-after","strokeWidth":1.4},"encoding":{"y":{"field":"s","type":"quantitative","axis":{"values":[0,0.2,0.4,0.6,0.8,1],"format":".1f","title":"Survival probability"}},"stroke":{"field":"g","type":"nominal","sort":["Low","High"],"scale":{"range":["#3DB0CC","#E64B35"]},"legend":{"title":"Expression of OGDHL","orient":"none","legendX":-13,"legendY":-27,"direction":"horizontal","symbolType":"M-1,0H1M0,-0.36V0.36","symbolStrokeWidth":1.4,"symbolFillColor":"transparent"}}}},
    {"data":{"name":"cens"},"transform":[{"filter":"datum.p=='P8'"}],"mark":{"type":"point","shape":"M-1,0H1M0,-1V1","size":50,"filled":false,"strokeWidth":1.2,"opacity":1},"encoding":{"y":{"field":"s","type":"quantitative","axis":{"values":[0,0.2,0.4,0.6,0.8,1],"format":".1f","title":"Survival probability"}},"stroke":{"field":"g","type":"nominal","sort":["Low","High"],"legend":null}}},
    {"data":{"name":"ann"},"transform":[{"filter":"datum.p=='P8'"}],"mark":{"type":"text","align":"left","baseline":"middle","fontSize":13,"color":"#333"},"encoding":{"y":{"field":"s","type":"quantitative","axis":{"values":[0,0.2,0.4,0.6,0.8,1],"format":".1f","title":"Survival probability"}},"text":{"field":"label"}}}
   ]}
 ]}
]}
]
}
